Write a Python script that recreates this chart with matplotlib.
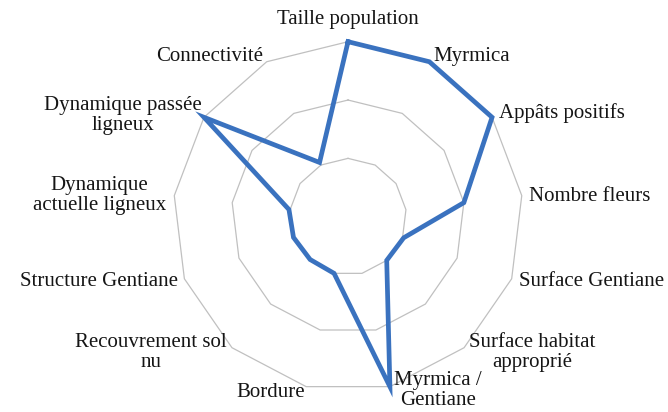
import numpy as np
import matplotlib
matplotlib.use("Agg")
import matplotlib.pyplot as plt

plt.rcParams["font.family"] = ["Liberation Serif", "DejaVu Serif"]

labels = [
    "Taille population", "Myrmica", "Appâts positifs", "Nombre fleurs",
    "Surface Gentiane", "Surface habitat\napproprié", "Myrmica /\nGentiane",
    "Bordure", "Recouvrement sol\nnu", "Structure Gentiane",
    "Dynamique\nactuelle ligneux", "Dynamique passée\nligneux", "Connectivité",
]
values = [3.0, 3.0, 3.0, 2.0, 1.02, 1.0, 3.0, 1.0, 0.98, 1.0, 1.02, 3.0, 1.05]
rings = [1, 2, 3]

# label placement: pixel offset from the outer vertex, horizontal alignment
label_offsets = [
    ((0, 22), "center"), ((4, 5), "left"), ((7, 4), "left"), ((7, -1), "left"),
    ((7, -3), "left"), ((5, -5), "left"), ((4, -4), "left"), ((-1, -6), "right"),
    ((-5, -5), "right"), ((-6, -3), "right"), ((-8, 0), "right"),
    ((-2, 2), "right"), ((-4, 5), "right"),
]

n = len(labels)
angles = np.arange(n) * 2 * np.pi / n

fig = plt.figure(figsize=(6.68, 4.12), dpi=100)
ax = fig.add_axes([0.259, 0.049, 0.524, 0.850], projection="polar")
ax.set_theta_offset(np.pi / 2)
ax.set_theta_direction(-1)
ax.set_ylim(0, 3)
ax.grid(False)
ax.spines["polar"].set_visible(False)
ax.set_xticks([])
ax.set_yticks([])

closed = np.append(angles, angles[0])

# polygonal rings
for r in rings:
    ax.plot(closed, [r] * (n + 1), color="#c0c0c0", lw=0.9, zorder=1,
            clip_on=False)

ax.plot(closed, values + values[:1], color="#3a72bf", lw=3.4,
        solid_joinstyle="miter", zorder=3, clip_on=False)

for ang, lab, (off, ha) in zip(angles, labels, label_offsets):
    ax.annotate(lab, xy=(ang, rings[-1]), xytext=off, textcoords="offset pixels",
                ha=ha, va="center", multialignment="center", fontsize=15,
                linespacing=1.05, color="#151515", annotation_clip=False)

fig.savefig("out.png", dpi=100, facecolor="white")
